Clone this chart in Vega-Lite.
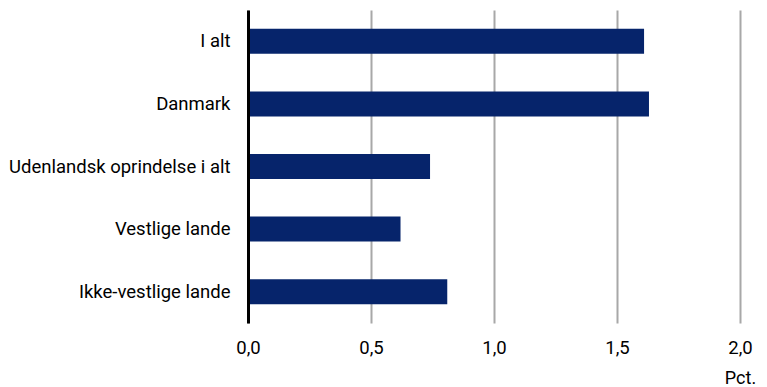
{
  "$schema": "https://vega.github.io/schema/vega-lite/v6.json",
  "width": 492,
  "height": 313,
  "autosize": {"type": "none"},
  "padding": {"left": 248, "top": 10, "right": 27, "bottom": 64},
  "background": "white",
  "config": {"view": {"stroke": null}},
  "data": {
    "values": [
      {"gruppe": "I alt", "pct": 1.61},
      {"gruppe": "Danmark", "pct": 1.63},
      {"gruppe": "Udenlandsk oprindelse i alt", "pct": 0.74},
      {"gruppe": "Vestlige lande", "pct": 0.62},
      {"gruppe": "Ikke-vestlige lande", "pct": 0.81}
    ]
  },
  "mark": {"type": "bar", "color": "#06246b"},
  "encoding": {
    "y": {
      "field": "gruppe",
      "type": "nominal",
      "sort": null,
      "scale": {"paddingInner": 0.6, "paddingOuter": 0.3},
      "axis": {
        "title": null,
        "ticks": false,
        "grid": false,
        "domain": true,
        "domainColor": "#000000",
        "domainWidth": 3,
        "labelFont": "Roboto",
        "labelFontSize": 18.5,
        "labelColor": "#000000",
        "labelPadding": 18,
        "labelLimit": 400,
        "zindex": 1
      }
    },
    "x": {
      "field": "pct",
      "type": "quantitative",
      "scale": {"domain": [0, 2], "nice": false},
      "axis": {
        "values": [0, 0.5, 1, 1.5, 2],
        "labelExpr": "replace(format(datum.value, '.1f'), '.', ',')",
        "title": "Pct.",
        "titleX": 492,
        "titleY": 55,
        "titleAlign": "center",
        "titleBaseline": "middle",
        "titleFont": "Roboto",
        "titleFontSize": 18,
        "titleFontWeight": "normal",
        "titleColor": "#000000",
        "domain": false,
        "ticks": false,
        "grid": true,
        "gridColor": "#a8a8a8",
        "gridWidth": 2,
        "labelFont": "Roboto",
        "labelFontSize": 18.5,
        "labelColor": "#000000",
        "labelPadding": 15,
        "labelFlush": false
      }
    }
  }
}
